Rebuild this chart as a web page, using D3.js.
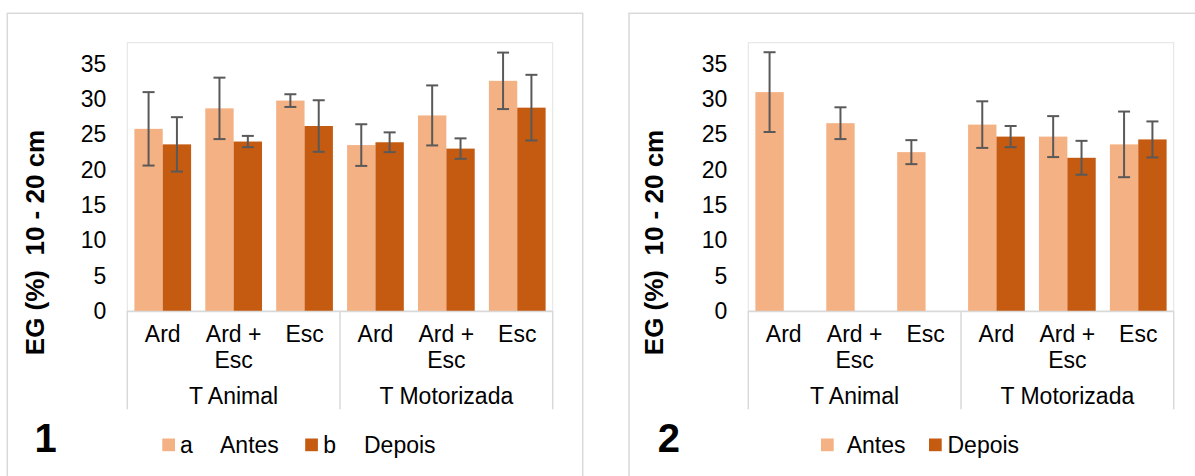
<!DOCTYPE html>
<html>
<head>
<meta charset="utf-8">
<script src="https://cdn.jsdelivr.net/npm/d3@7"></script>
<style>
  html, body { margin: 0; padding: 0; background: #fff; }
  svg { display: block; font-family: Arial, "Liberation Sans", sans-serif; }
  text { white-space: pre; }
</style>
</head>
<body>
<svg id="chart" width="1195" height="476"></svg>
<script>
// ---------- data ----------
const categories = ["Ard", "Ard + Esc", "Esc", "Ard", "Ard + Esc", "Esc"];
const categoryGroups = ["T Animal", "T Animal", "T Animal", "T Motorizada", "T Motorizada", "T Motorizada"];
const groups = ["T Animal", "T Motorizada"];
const seriesNames = ["Antes", "Depois"];
const yTickValues = [0, 5, 10, 15, 20, 25, 30, 35];
const yAxisTitle = "EG (%)  10 - 20 cm";

// Chart 1
const chart1Antes     = [25.8, 28.7, 29.8, 23.5, 27.7, 32.6];
const chart1AntesErr  = [5.2, 4.35, 0.9, 2.95, 4.25, 4.0];
const chart1Depois    = [23.6, 24.0, 26.2, 23.9, 23.0, 28.8];
const chart1DepoisErr = [3.85, 0.8, 3.65, 1.4, 1.45, 4.65];
const chart1LegendTags = ["a", "b"];

// Chart 2
const chart2Antes     = [31.0, 26.6, 22.5, 26.4, 24.7, 23.6];
const chart2AntesErr  = [5.65, 2.25, 1.7, 3.3, 2.9, 4.65];
const chart2Depois    = [null, null, null, 24.7, 21.7, 24.3];
const chart2DepoisErr = [null, null, null, 1.5, 2.4, 2.55];
const chart2LegendTags = ["", ""];

const colors = { Antes: "#F4B183", Depois: "#C55A11" };

// ---------- drawing ----------
const svg = d3.select("#chart");
const FONT = 23;

function drawChart(opt) {
  const g = svg.append("g").attr("transform", `translate(${opt.dx},0)`);
  const plotLeft = 127.3, plotRight = 552.7, plotTop = 42.7, baseline = 311, tableBottom = 409.3;

  // outer frame
  g.append("rect")
    .attr("x", opt.frameX).attr("y", 13.3)
    .attr("width", opt.frameW).attr("height", 520)
    .attr("fill", "none").attr("stroke", "#d9d9d9").attr("stroke-width", 1.5);

  const idx = d3.range(categories.length);
  const x0 = d3.scaleBand().domain(idx).range([plotLeft, plotRight]).paddingInner(0).paddingOuter(0);
  const x1 = d3.scaleBand().domain(seriesNames).range([0, x0.bandwidth()]).paddingInner(0).paddingOuter(0.25);
  const y = d3.scaleLinear().domain([0, 38]).range([baseline, plotTop]);

  // plot area border
  g.append("rect")
    .attr("x", plotLeft).attr("y", plotTop)
    .attr("width", plotRight - plotLeft).attr("height", baseline - plotTop)
    .attr("fill", "none").attr("stroke", "#e3e3e3").attr("stroke-width", 1);

  // y axis
  const yAxis = d3.axisLeft(y).tickValues(yTickValues).tickSize(0).tickPadding(21).tickFormat(d3.format("d"));
  const ya = g.append("g").attr("transform", `translate(${plotLeft},0)`).call(yAxis);
  ya.select(".domain").remove();
  ya.selectAll("text").attr("font-size", FONT).attr("fill", "#000")
    .attr("font-family", 'Arial, "Liberation Sans", sans-serif');

  // y axis title
  g.append("text")
    .attr("transform", `translate(${opt.titleX},242.5) rotate(-90)`)
    .attr("text-anchor", "middle").attr("dominant-baseline", "central")
    .attr("font-size", 26).attr("font-weight", "bold").attr("fill", "#000")
    .text(yAxisTitle);

  // bars
  const series = [
    { name: "Antes", values: opt.antes, errs: opt.antesErr },
    { name: "Depois", values: opt.depois, errs: opt.depoisErr }
  ];
  series.forEach(s => {
    const data = idx.filter(i => s.values[i] != null).map(i => ({ i, v: s.values[i], e: s.errs[i] }));
    g.append("g").selectAll("rect").data(data).join("rect")
      .attr("x", d => x0(d.i) + x1(s.name))
      .attr("y", d => y(d.v))
      .attr("width", x1.bandwidth())
      .attr("height", d => y(0) - y(d.v))
      .attr("fill", colors[s.name]);
  });

  // error bars
  series.forEach(s => {
    const data = idx.filter(i => s.values[i] != null).map(i => ({ i, v: s.values[i], e: s.errs[i] }));
    const eg = g.append("g").attr("stroke", "#595959").attr("stroke-width", 2).attr("fill", "none");
    const cx = d => x0(d.i) + x1(s.name) + x1.bandwidth() / 2;
    eg.selectAll("line.v").data(data).join("line").attr("class", "v")
      .attr("x1", cx).attr("x2", cx)
      .attr("y1", d => y(d.v + d.e)).attr("y2", d => y(d.v - d.e));
    eg.selectAll("line.t").data(data).join("line").attr("class", "t")
      .attr("x1", d => cx(d) - 6).attr("x2", d => cx(d) + 6)
      .attr("y1", d => y(d.v + d.e)).attr("y2", d => y(d.v + d.e));
    eg.selectAll("line.b").data(data).join("line").attr("class", "b")
      .attr("x1", d => cx(d) - 6).attr("x2", d => cx(d) + 6)
      .attr("y1", d => y(d.v - d.e)).attr("y2", d => y(d.v - d.e));
  });

  // category table lines
  const lineColor = "#d9d9d9";
  g.append("line").attr("x1", plotLeft).attr("x2", plotRight).attr("y1", baseline + 0.5).attr("y2", baseline + 0.5)
    .attr("stroke", lineColor).attr("stroke-width", 1.5);
  const groupEdges = [plotLeft];
  groups.forEach(gr => {
    const last = d3.max(idx.filter(i => categoryGroups[i] === gr));
    groupEdges.push(x0(last) + x0.bandwidth());
  });
  g.selectAll("line.gedge").data(groupEdges).join("line").attr("class", "gedge")
    .attr("x1", d => d).attr("x2", d => d).attr("y1", baseline).attr("y2", tableBottom)
    .attr("stroke", lineColor).attr("stroke-width", 1.5);

  // category labels (wrap "Ard + Esc")
  const catG = g.append("g").attr("font-size", FONT).attr("fill", "#000").attr("text-anchor", "middle");
  idx.forEach(i => {
    const label = categories[i];
    const lines = label === "Ard + Esc" ? ["Ard +", "Esc"] : [label];
    const t = catG.append("text").attr("x", x0(i) + x0.bandwidth() / 2).attr("y", 341.7);
    lines.forEach((ln, k) => {
      t.append("tspan").attr("x", x0(i) + x0.bandwidth() / 2).attr("y", 341.7 + k * 26.7).text(ln);
    });
  });
  // group labels
  groups.forEach((gr, k) => {
    g.append("text").attr("x", (groupEdges[k] + groupEdges[k + 1]) / 2).attr("y", 404)
      .attr("text-anchor", "middle").attr("font-size", FONT).attr("fill", "#000").text(gr);
  });

  // panel number
  g.append("text").attr("x", opt.numX).attr("y", 451.7).attr("text-anchor", "middle")
    .attr("font-size", 40).attr("font-weight", "bold").attr("fill", "#000").text(opt.num);

  // legend
  opt.legend.forEach((L, k) => {
    g.append("rect").attr("x", L.sq).attr("y", 438.5).attr("width", 12.7).attr("height", 12.7)
      .attr("fill", colors[seriesNames[k]]);
    if (opt.tags[k]) {
      g.append("text").attr("x", L.tag).attr("y", 452.7).attr("font-size", FONT).attr("fill", "#000").text(opt.tags[k]);
    }
    g.append("text").attr("x", L.txt).attr("y", 452.7).attr("font-size", FONT).attr("fill", "#000").text(seriesNames[k]);
  });
}

drawChart({
  dx: 0, frameX: 7.3, frameW: 575.4, titleX: 35.4, numX: 45.5, num: "1",
  antes: chart1Antes, antesErr: chart1AntesErr, depois: chart1Depois, depoisErr: chart1DepoisErr,
  tags: chart1LegendTags,
  legend: [{ sq: 162.3, tag: 180, txt: 220 }, { sq: 305.2, tag: 323.3, txt: 364 }]
});
drawChart({
  dx: 621, frameX: 629 - 621, frameW: 700, titleX: 654 - 621, numX: 668.8 - 621, num: "2",
  antes: chart2Antes, antesErr: chart2AntesErr, depois: chart2Depois, depoisErr: chart2DepoisErr,
  tags: chart2LegendTags,
  legend: [{ sq: 821 - 621, tag: 0, txt: 846.7 - 621 }, { sq: 929 - 621, tag: 0, txt: 947.5 - 621 }]
});
</script>
</body>
</html>
